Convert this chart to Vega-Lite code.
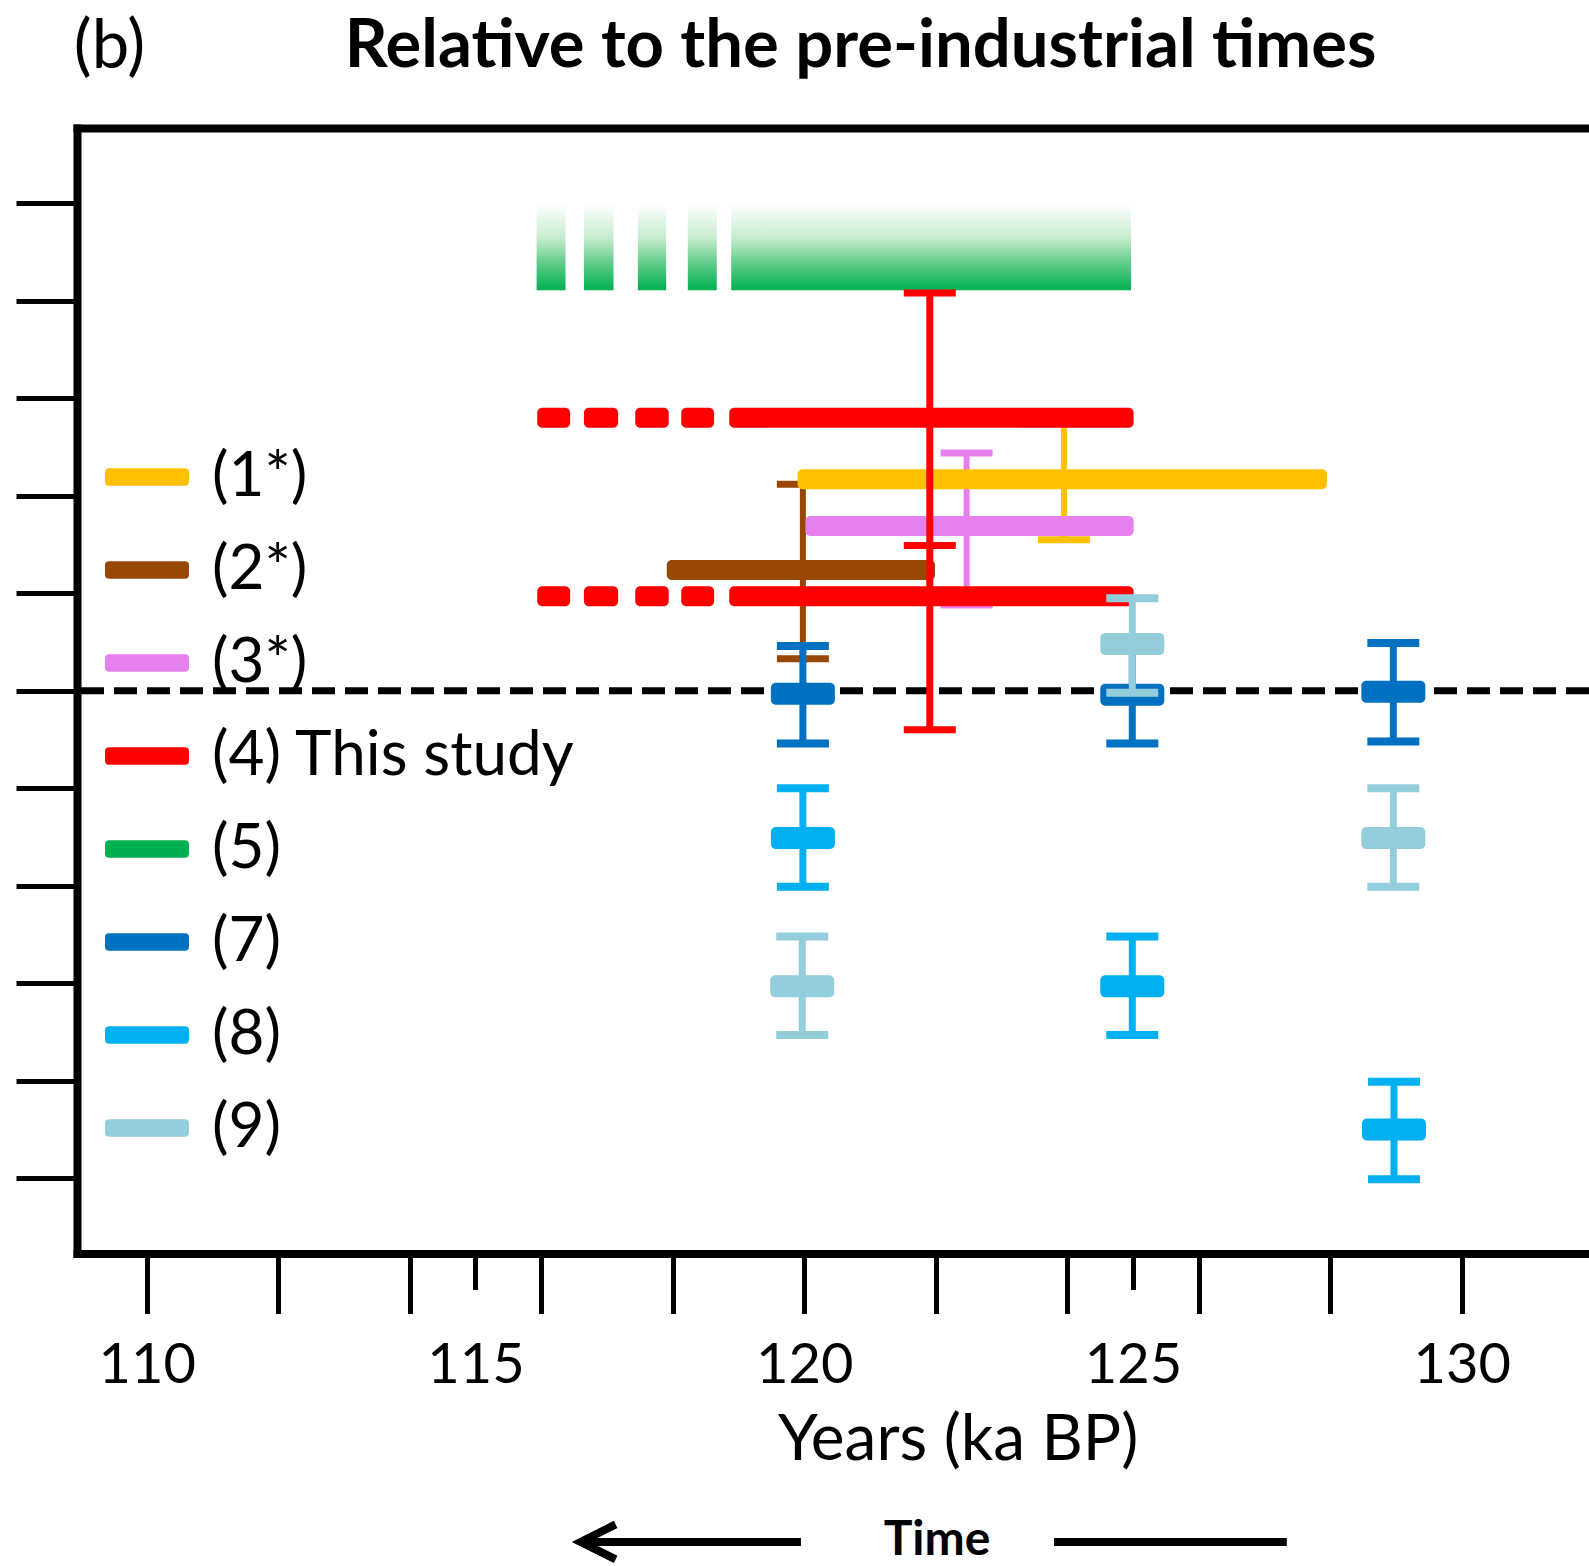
{
  "$schema": "https://vega.github.io/schema/vega-lite/v6.json",
  "width": 1512,
  "height": 1125.5,
  "autosize": {"type": "none"},
  "padding": {"left": 77, "top": 128, "right": 0, "bottom": 312.5},
  "background": "white",
  "config": {"view": {"stroke": null}, "font": "Lato"},
  "datasets": {
    "green": [
      {"src": "(5)", "start": 115.93, "end": 116.37, "lo": 4.11, "hi": 5.0},
      {"src": "(5)", "start": 116.65, "end": 117.10, "lo": 4.11, "hi": 5.0},
      {"src": "(5)", "start": 117.47, "end": 117.90, "lo": 4.11, "hi": 5.0},
      {"src": "(5)", "start": 118.23, "end": 118.67, "lo": 4.11, "hi": 5.0},
      {"src": "(5)", "start": 118.89, "end": 124.97, "lo": 4.11, "hi": 5.0}
    ],
    "ranges": [
      {"src": "(1*)", "start": 119.9, "end": 127.95, "y": 2.17},
      {"src": "(3*)", "start": 120.02, "end": 125.01, "y": 1.69},
      {"src": "(2*)", "start": 117.91, "end": 121.99, "y": 1.24},
      {"src": "(4) This study", "start": 115.94, "end": 116.44, "y": 2.8},
      {"src": "(4) This study", "start": 116.65, "end": 117.17, "y": 2.8},
      {"src": "(4) This study", "start": 117.43, "end": 117.94, "y": 2.8},
      {"src": "(4) This study", "start": 118.13, "end": 118.63, "y": 2.8},
      {"src": "(4) This study", "start": 118.86, "end": 125.01, "y": 2.8},
      {"src": "(4) This study", "start": 115.94, "end": 116.44, "y": 0.97},
      {"src": "(4) This study", "start": 116.65, "end": 117.17, "y": 0.97},
      {"src": "(4) This study", "start": 117.43, "end": 117.94, "y": 0.97},
      {"src": "(4) This study", "start": 118.13, "end": 118.63, "y": 0.97},
      {"src": "(4) This study", "start": 118.86, "end": 125.01, "y": 0.97}
    ],
    "errs": [
      {"src": "(1*)", "x": 123.95, "lo": 1.55, "hi": 2.78, "mid": null},
      {"src": "(3*)", "x": 122.47, "lo": 0.88, "hi": 2.44, "mid": null},
      {"src": "(2*)", "x": 119.98, "lo": 0.33, "hi": 2.12, "mid": null},
      {"src": "(4) This study", "x": 121.91, "lo": -0.4, "hi": 4.08, "mid": 1.49}
    ],
    "pts": [
      {"src": "(7)", "x": 119.98, "y": -0.03, "lo": -0.54, "hi": 0.46},
      {"src": "(7)", "x": 124.99, "y": -0.04, "lo": -0.54, "hi": 0.46},
      {"src": "(7)", "x": 128.96, "y": -0.01, "lo": -0.52, "hi": 0.49},
      {"src": "(8)", "x": 119.98, "y": -1.51, "lo": -2.01, "hi": -1.0},
      {"src": "(8)", "x": 124.99, "y": -3.03, "lo": -3.53, "hi": -2.52},
      {"src": "(8)", "x": 128.97, "y": -4.5, "lo": -5.01, "hi": -4.01},
      {"src": "(9)", "x": 119.97, "y": -3.03, "lo": -3.53, "hi": -2.52},
      {"src": "(9)", "x": 124.99, "y": 0.48, "lo": -0.02, "hi": 0.95},
      {"src": "(9)", "x": 128.96, "y": -1.51, "lo": -2.01, "hi": -1.0}
    ],
    "timeLine": [
      {"part": "left", "x": 116.6, "x2": 119.95, "y": -8.73},
      {"part": "right", "x": 123.8, "x2": 127.34, "y": -8.73}
    ],
    "timeText": [{"label": "Time", "x": 122.02, "y": -8.72}]
  },
  "resolve": {"axis": {"x": "independent", "y": "independent"}},
  "layer": [
    {
      "data": {"name": "green"},
      "mark": {"type": "rect", "opacity": 1, "fill": {"gradient": "linear", "x1": 0, "y1": 1, "x2": 0, "y2": 0, "stops": [{"offset": 0, "color": "#00B050"}, {"offset": 0.3, "color": "#5CCB87"}, {"offset": 0.6, "color": "#C6ECCD"}, {"offset": 1, "color": "#FFFFFF"}]}},
      "encoding": {
        "x": {"field": "start", "type": "quantitative", "scale": {"domain": [108.94, 131.936], "nice": false, "zero": false},
          "axis": {"orient": "top", "ticks": false, "labels": false, "grid": false, "domainWidth": 8, "domainColor": "black", "domainCap": "square",
            "title": "Relative to the pre-industrial times", "titleFont": "Lato", "titleFontSize": 67, "titleFontWeight": "bold", "titleColor": "black",
            "titleX": 783, "titleY": -62, "titleAlign": "center", "titleBaseline": "alphabetic"}},
        "x2": {"field": "end"},
        "y": {"field": "lo", "type": "quantitative", "scale": {"domain": [-5.72, 5.722], "nice": false, "zero": false},
          "axis": {"orient": "left", "values": [-5, -4, -3, -2, -1, 0, 1, 2, 3, 4, 5], "labels": false, "grid": false, "tickSize": 61, "tickWidth": 5, "tickColor": "black",
            "domainWidth": 8, "domainColor": "black", "domainCap": "square",
            "title": "(b)", "titleFont": "Lato", "titleFontSize": 67, "titleFontWeight": "normal", "titleColor": "black", "titleAngle": 0,
            "titleX": 32, "titleY": -61, "titleAlign": "center", "titleBaseline": "alphabetic"}},
        "y2": {"field": "hi"}
      }
    },
    {
      "data": {"values": [{}]},
      "mark": {"type": "rule", "color": "black", "strokeWidth": 7, "strokeDash": [23, 10], "opacity": 1},
      "encoding": {"y": {"datum": 0, "type": "quantitative", "scale": {"domain": [-5.72, 5.722], "nice": false, "zero": false}, "axis": null}}
    },
    {
      "data": {"name": "errs"},
      "transform": [{"filter": "datum.src != '(4) This study'"}],
      "mark": {"type": "rule", "strokeWidth": 6, "opacity": 1},
      "encoding": {
        "x": {"field": "x", "type": "quantitative", "scale": {"domain": [108.94, 131.936], "nice": false, "zero": false}, "axis": null},
        "y": {"field": "lo", "type": "quantitative", "scale": {"domain": [-5.72, 5.722], "nice": false, "zero": false}, "axis": null},
        "y2": {"field": "hi"},
        "stroke": {"field": "src", "type": "nominal", "scale": {"domain": ["(9)", "(8)", "(7)", "(5)", "(4) This study", "(3*)", "(2*)", "(1*)"], "range": ["#94CDDC", "#00B0F0", "#0070C0", "#00B050", "#FF0000", "#E680EE", "#974806", "#FFC000"]}, "legend": null}
      }
    },
    {
      "data": {"name": "errs"},
      "transform": [{"filter": "datum.src != '(4) This study'"}, {"fold": ["lo", "hi"], "as": ["end", "val"]}],
      "mark": {"type": "tick", "orient": "horizontal", "size": 52, "thickness": 7, "opacity": 1},
      "encoding": {
        "x": {"field": "x", "type": "quantitative", "scale": {"domain": [108.94, 131.936], "nice": false, "zero": false}, "axis": null},
        "y": {"field": "val", "type": "quantitative", "scale": {"domain": [-5.72, 5.722], "nice": false, "zero": false}, "axis": null},
        "fill": {"field": "src", "type": "nominal", "scale": {"domain": ["(9)", "(8)", "(7)", "(5)", "(4) This study", "(3*)", "(2*)", "(1*)"], "range": ["#94CDDC", "#00B0F0", "#0070C0", "#00B050", "#FF0000", "#E680EE", "#974806", "#FFC000"]}, "legend": null}
      }
    },
    {
      "data": {"name": "ranges"},
      "mark": {"type": "bar", "size": 20, "cornerRadius": 5, "opacity": 1},
      "encoding": {
        "x": {"field": "start", "type": "quantitative", "scale": {"domain": [108.94, 131.936], "nice": false, "zero": false},
          "axis": {"orient": "bottom", "values": [110, 112, 114, 115, 116, 118, 120, 122, 124, 125, 126, 128, 130],
            "labelExpr": "datum.value % 5 == 0 ? datum.label : ''", "grid": false,
            "tickSize": {"condition": {"test": "datum.value % 10 == 5", "value": 36}, "value": 60},
            "labelPadding": {"condition": {"test": "datum.value % 10 == 5", "value": 49}, "value": 25},
            "tickWidth": 5, "tickColor": "black", "domainWidth": 8, "domainColor": "black", "domainCap": "square",
            "labelFont": "Lato", "labelFontSize": 56, "labelColor": "black", "labelOverlap": false, "labelFlush": false,
            "title": "Years (ka BP)", "titleFont": "Lato", "titleFontSize": 64, "titleFontWeight": "normal", "titleColor": "black",
            "titleX": 880.6, "titleY": 205.5, "titleAlign": "center", "titleBaseline": "alphabetic"}},
        "x2": {"field": "end"},
        "y": {"field": "y", "type": "quantitative", "scale": {"domain": [-5.72, 5.722], "nice": false, "zero": false}, "axis": null},
        "color": {"field": "src", "type": "nominal", "scale": {"domain": ["(1*)", "(2*)", "(3*)", "(4) This study", "(5)", "(7)", "(8)", "(9)"], "range": ["#FFC000", "#974806", "#E680EE", "#FF0000", "#00B050", "#0070C0", "#00B0F0", "#94CDDC"]},
          "legend": {"orient": "none", "legendX": 28, "legendY": 307, "title": null, "padding": 0,
            "symbolType": "M-0.9,-0.21H0.9Q1,-0.21 1,-0.11V0.11Q1,0.21 0.9,0.21H-0.9Q-1,0.21 -1,0.11V-0.11Q-1,-0.21 -0.9,-0.21Z",
            "symbolSize": 7056, "symbolStrokeWidth": 0, "symbolOpacity": 1,
            "labelFont": "Lato", "labelFontSize": 62, "labelColor": "black", "labelOffset": 23, "labelLimit": 600, "rowPadding": 20}}
      }
    },
    {
      "data": {"name": "errs"},
      "transform": [{"filter": "datum.src == '(4) This study'"}],
      "mark": {"type": "rule", "strokeWidth": 7, "opacity": 1},
      "encoding": {
        "x": {"field": "x", "type": "quantitative", "scale": {"domain": [108.94, 131.936], "nice": false, "zero": false}, "axis": null},
        "y": {"field": "lo", "type": "quantitative", "scale": {"domain": [-5.72, 5.722], "nice": false, "zero": false}, "axis": null},
        "y2": {"field": "hi"},
        "stroke": {"field": "src", "type": "nominal", "scale": {"domain": ["(9)", "(8)", "(7)", "(5)", "(4) This study", "(3*)", "(2*)", "(1*)"], "range": ["#94CDDC", "#00B0F0", "#0070C0", "#00B050", "#FF0000", "#E680EE", "#974806", "#FFC000"]}, "legend": null}
      }
    },
    {
      "data": {"name": "errs"},
      "transform": [{"filter": "datum.src == '(4) This study'"}, {"fold": ["lo", "hi", "mid"], "as": ["end", "val"]}],
      "mark": {"type": "tick", "orient": "horizontal", "size": 52, "thickness": 7, "opacity": 1},
      "encoding": {
        "x": {"field": "x", "type": "quantitative", "scale": {"domain": [108.94, 131.936], "nice": false, "zero": false}, "axis": null},
        "y": {"field": "val", "type": "quantitative", "scale": {"domain": [-5.72, 5.722], "nice": false, "zero": false}, "axis": null},
        "fill": {"field": "src", "type": "nominal", "scale": {"domain": ["(9)", "(8)", "(7)", "(5)", "(4) This study", "(3*)", "(2*)", "(1*)"], "range": ["#94CDDC", "#00B0F0", "#0070C0", "#00B050", "#FF0000", "#E680EE", "#974806", "#FFC000"]}, "legend": null}
      }
    },
    {
      "data": {"name": "pts"},
      "transform": [{"filter": "datum.src != '(9)'"}],
      "mark": {"type": "rule", "strokeWidth": 7, "opacity": 1},
      "encoding": {
        "x": {"field": "x", "type": "quantitative", "scale": {"domain": [108.94, 131.936], "nice": false, "zero": false}, "axis": null},
        "y": {"field": "lo", "type": "quantitative", "scale": {"domain": [-5.72, 5.722], "nice": false, "zero": false}, "axis": null},
        "y2": {"field": "hi"},
        "stroke": {"field": "src", "type": "nominal", "scale": {"domain": ["(9)", "(8)", "(7)", "(5)", "(4) This study", "(3*)", "(2*)", "(1*)"], "range": ["#94CDDC", "#00B0F0", "#0070C0", "#00B050", "#FF0000", "#E680EE", "#974806", "#FFC000"]}, "legend": null}
      }
    },
    {
      "data": {"name": "pts"},
      "transform": [{"filter": "datum.src != '(9)'"}, {"fold": ["lo", "hi"], "as": ["end", "val"]}],
      "mark": {"type": "tick", "orient": "horizontal", "size": 52, "thickness": 8, "opacity": 1},
      "encoding": {
        "x": {"field": "x", "type": "quantitative", "scale": {"domain": [108.94, 131.936], "nice": false, "zero": false}, "axis": null},
        "y": {"field": "val", "type": "quantitative", "scale": {"domain": [-5.72, 5.722], "nice": false, "zero": false}, "axis": null},
        "fill": {"field": "src", "type": "nominal", "scale": {"domain": ["(9)", "(8)", "(7)", "(5)", "(4) This study", "(3*)", "(2*)", "(1*)"], "range": ["#94CDDC", "#00B0F0", "#0070C0", "#00B050", "#FF0000", "#E680EE", "#974806", "#FFC000"]}, "legend": null}
      }
    },
    {
      "data": {"name": "pts"},
      "transform": [{"filter": "datum.src != '(9)'"}],
      "mark": {"type": "tick", "orient": "horizontal", "size": 64, "thickness": 22, "cornerRadius": 5, "opacity": 1},
      "encoding": {
        "x": {"field": "x", "type": "quantitative", "scale": {"domain": [108.94, 131.936], "nice": false, "zero": false}, "axis": null},
        "y": {"field": "y", "type": "quantitative", "scale": {"domain": [-5.72, 5.722], "nice": false, "zero": false}, "axis": null},
        "fill": {"field": "src", "type": "nominal", "scale": {"domain": ["(9)", "(8)", "(7)", "(5)", "(4) This study", "(3*)", "(2*)", "(1*)"], "range": ["#94CDDC", "#00B0F0", "#0070C0", "#00B050", "#FF0000", "#E680EE", "#974806", "#FFC000"]}, "legend": null}
      }
    },
    {
      "data": {"name": "pts"},
      "transform": [{"filter": "datum.src == '(9)'"}],
      "mark": {"type": "rule", "strokeWidth": 7, "opacity": 1},
      "encoding": {
        "x": {"field": "x", "type": "quantitative", "scale": {"domain": [108.94, 131.936], "nice": false, "zero": false}, "axis": null},
        "y": {"field": "lo", "type": "quantitative", "scale": {"domain": [-5.72, 5.722], "nice": false, "zero": false}, "axis": null},
        "y2": {"field": "hi"},
        "stroke": {"field": "src", "type": "nominal", "scale": {"domain": ["(9)", "(8)", "(7)", "(5)", "(4) This study", "(3*)", "(2*)", "(1*)"], "range": ["#94CDDC", "#00B0F0", "#0070C0", "#00B050", "#FF0000", "#E680EE", "#974806", "#FFC000"]}, "legend": null}
      }
    },
    {
      "data": {"name": "pts"},
      "transform": [{"filter": "datum.src == '(9)'"}, {"fold": ["lo", "hi"], "as": ["end", "val"]}],
      "mark": {"type": "tick", "orient": "horizontal", "size": 52, "thickness": 8, "opacity": 1},
      "encoding": {
        "x": {"field": "x", "type": "quantitative", "scale": {"domain": [108.94, 131.936], "nice": false, "zero": false}, "axis": null},
        "y": {"field": "val", "type": "quantitative", "scale": {"domain": [-5.72, 5.722], "nice": false, "zero": false}, "axis": null},
        "fill": {"field": "src", "type": "nominal", "scale": {"domain": ["(9)", "(8)", "(7)", "(5)", "(4) This study", "(3*)", "(2*)", "(1*)"], "range": ["#94CDDC", "#00B0F0", "#0070C0", "#00B050", "#FF0000", "#E680EE", "#974806", "#FFC000"]}, "legend": null}
      }
    },
    {
      "data": {"name": "pts"},
      "transform": [{"filter": "datum.src == '(9)'"}],
      "mark": {"type": "tick", "orient": "horizontal", "size": 64, "thickness": 22, "cornerRadius": 5, "opacity": 1},
      "encoding": {
        "x": {"field": "x", "type": "quantitative", "scale": {"domain": [108.94, 131.936], "nice": false, "zero": false}, "axis": null},
        "y": {"field": "y", "type": "quantitative", "scale": {"domain": [-5.72, 5.722], "nice": false, "zero": false}, "axis": null},
        "fill": {"field": "src", "type": "nominal", "scale": {"domain": ["(9)", "(8)", "(7)", "(5)", "(4) This study", "(3*)", "(2*)", "(1*)"], "range": ["#94CDDC", "#00B0F0", "#0070C0", "#00B050", "#FF0000", "#E680EE", "#974806", "#FFC000"]}, "legend": null}
      }
    },
    {
      "data": {"name": "timeLine"},
      "mark": {"type": "rule", "color": "black", "strokeWidth": 8, "opacity": 1, "clip": false},
      "encoding": {
        "x": {"field": "x", "type": "quantitative", "scale": {"domain": [108.94, 131.936], "nice": false, "zero": false}, "axis": null},
        "x2": {"field": "x2"},
        "y": {"field": "y", "type": "quantitative", "scale": {"domain": [-5.72, 5.722], "nice": false, "zero": false}, "axis": null}
      }
    },
    {
      "data": {"name": "timeLine"},
      "transform": [{"filter": "datum.part == 'left'"}],
      "mark": {"type": "point", "shape": "M2,-1L0,0L2,1", "size": 1225, "filled": false, "color": "black", "strokeWidth": 8, "opacity": 1, "clip": false},
      "encoding": {
        "x": {"field": "x", "type": "quantitative", "scale": {"domain": [108.94, 131.936], "nice": false, "zero": false}, "axis": null},
        "y": {"field": "y", "type": "quantitative", "scale": {"domain": [-5.72, 5.722], "nice": false, "zero": false}, "axis": null}
      }
    },
    {
      "data": {"name": "timeText"},
      "mark": {"type": "text", "font": "Lato", "fontSize": 48, "fontWeight": "bold", "align": "center", "baseline": "middle", "color": "black", "clip": false},
      "encoding": {
        "x": {"field": "x", "type": "quantitative", "scale": {"domain": [108.94, 131.936], "nice": false, "zero": false}, "axis": null},
        "y": {"field": "y", "type": "quantitative", "scale": {"domain": [-5.72, 5.722], "nice": false, "zero": false}, "axis": null},
        "text": {"field": "label"}
      }
    }
  ]
}
